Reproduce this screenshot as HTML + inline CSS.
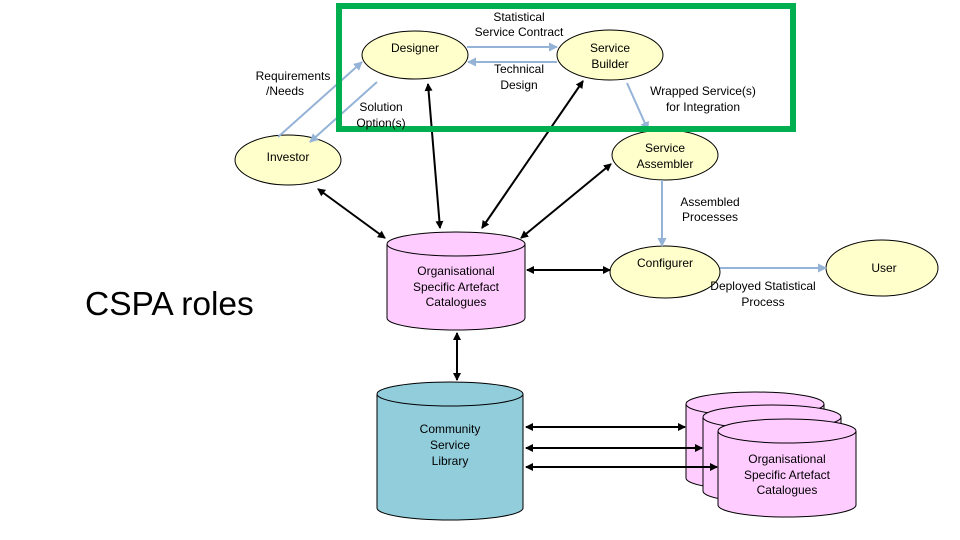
<!DOCTYPE html>
<html><head><meta charset="utf-8"><style>
html,body{margin:0;padding:0;background:#fff;}
svg{display:block;font-family:"Liberation Sans",sans-serif;}
</style></head><body>
<svg width="960" height="540" viewBox="0 0 960 540" xmlns="http://www.w3.org/2000/svg">
<defs>
<marker id="bk" markerWidth="8" markerHeight="8" refX="7" refY="4" orient="auto-start-reverse" markerUnits="userSpaceOnUse"><path d="M0,0 L8,4 L0,8 z" fill="#000"/></marker>
<marker id="bl" markerWidth="9" markerHeight="9" refX="8" refY="4.5" orient="auto" markerUnits="userSpaceOnUse"><path d="M0,0 L9,4.5 L0,9 z" fill="#95b3d7"/></marker>
</defs>
<g fill="#ffffcc" stroke="#000" stroke-width="1">
<ellipse cx="415" cy="55" rx="53" ry="24"/>
<ellipse cx="610" cy="55" rx="53" ry="25"/>
<ellipse cx="288" cy="160" rx="53" ry="25"/>
<ellipse cx="665" cy="155" rx="53" ry="25"/>
<ellipse cx="665" cy="272" rx="55" ry="26"/>
<ellipse cx="882" cy="268" rx="56" ry="28"/>
</g>
<g stroke="#000" stroke-width="1">
<path d="M387,244 v74 a69,12 0 0 0 138,0 v-74" fill="#ffccff"/>
<ellipse cx="456" cy="244" rx="69" ry="12" fill="#ffccff"/>
<path d="M377,394 v114 a73,12 0 0 0 146,0 v-114" fill="#92cddc"/>
<ellipse cx="450" cy="394" rx="73" ry="12" fill="#92cddc"/>
<path d="M686,404 v74 a69,12 0 0 0 138,0 v-74" fill="#ffccff"/>
<ellipse cx="755" cy="404" rx="69" ry="12" fill="#ffccff"/>
<path d="M703,417 v74 a69,12 0 0 0 138,0 v-74" fill="#ffccff"/>
<ellipse cx="772" cy="417" rx="69" ry="12" fill="#ffccff"/>
<path d="M718,431 v74 a69,12 0 0 0 138,0 v-74" fill="#ffccff"/>
<ellipse cx="787" cy="431" rx="69" ry="12" fill="#ffccff"/>
</g>
<g stroke="#000" stroke-width="2" marker-start="url(#bk)" marker-end="url(#bk)">
<line x1="318" y1="189" x2="385" y2="238"/>
<line x1="428" y1="84" x2="440" y2="228"/>
<line x1="583" y1="81" x2="482" y2="228"/>
<line x1="611" y1="164" x2="521" y2="238"/>
<line x1="527" y1="270" x2="610" y2="270"/>
<line x1="457" y1="333" x2="457" y2="380"/>
<line x1="526" y1="427" x2="685" y2="427"/>
<line x1="526" y1="448" x2="702" y2="448"/>
<line x1="526" y1="467" x2="717" y2="467"/>
</g>
<g stroke="#95b3d7" stroke-width="2" fill="none" marker-end="url(#bl)">
<line x1="467" y1="47" x2="557" y2="47"/>
<line x1="557" y1="62" x2="468" y2="62"/>
<line x1="278" y1="137" x2="362" y2="62"/>
<line x1="377" y1="82" x2="310" y2="142"/>
<line x1="627" y1="83" x2="648" y2="130"/>
<line x1="662" y1="180" x2="662" y2="246"/>
<line x1="720" y1="268" x2="826" y2="268"/>
</g>
<rect x="339" y="6" width="454" height="123" fill="none" stroke="#00b050" stroke-width="6"/>
<g font-size="12" fill="#000" text-anchor="middle">
<text x="415" y="52">Designer</text>
<text x="610" y="52">Service</text><text x="610" y="68">Builder</text>
<text x="288" y="161">Investor</text>
<text x="665" y="152">Service</text><text x="665" y="168">Assembler</text>
<text x="665" y="267">Configurer</text>
<text x="884" y="272">User</text>
<text x="519" y="21">Statistical</text><text x="519" y="36">Service Contract</text>
<text x="519" y="73">Technical</text><text x="519" y="89">Design</text>
<text x="293" y="80">Requirements</text><text x="285" y="95">/Needs</text>
<text x="381" y="111">Solution</text><text x="381" y="127">Option(s)</text>
<text x="703" y="95">Wrapped Service(s)</text><text x="703" y="111">for Integration</text>
<text x="710" y="206">Assembled</text><text x="710" y="221">Processes</text>
<text x="763" y="290">Deployed Statistical</text><text x="763" y="306">Process</text>
<text x="456" y="275">Organisational</text><text x="456" y="291">Specific Artefact</text><text x="456" y="306">Catalogues</text>
<text x="450" y="433">Community</text><text x="450" y="449">Service</text><text x="450" y="465">Library</text>
<text x="787" y="463">Organisational</text><text x="787" y="479">Specific Artefact</text><text x="787" y="494">Catalogues</text>
</g>
<text x="85" y="315" font-size="33.5" fill="#000">CSPA roles</text>
</svg>
</body></html>
